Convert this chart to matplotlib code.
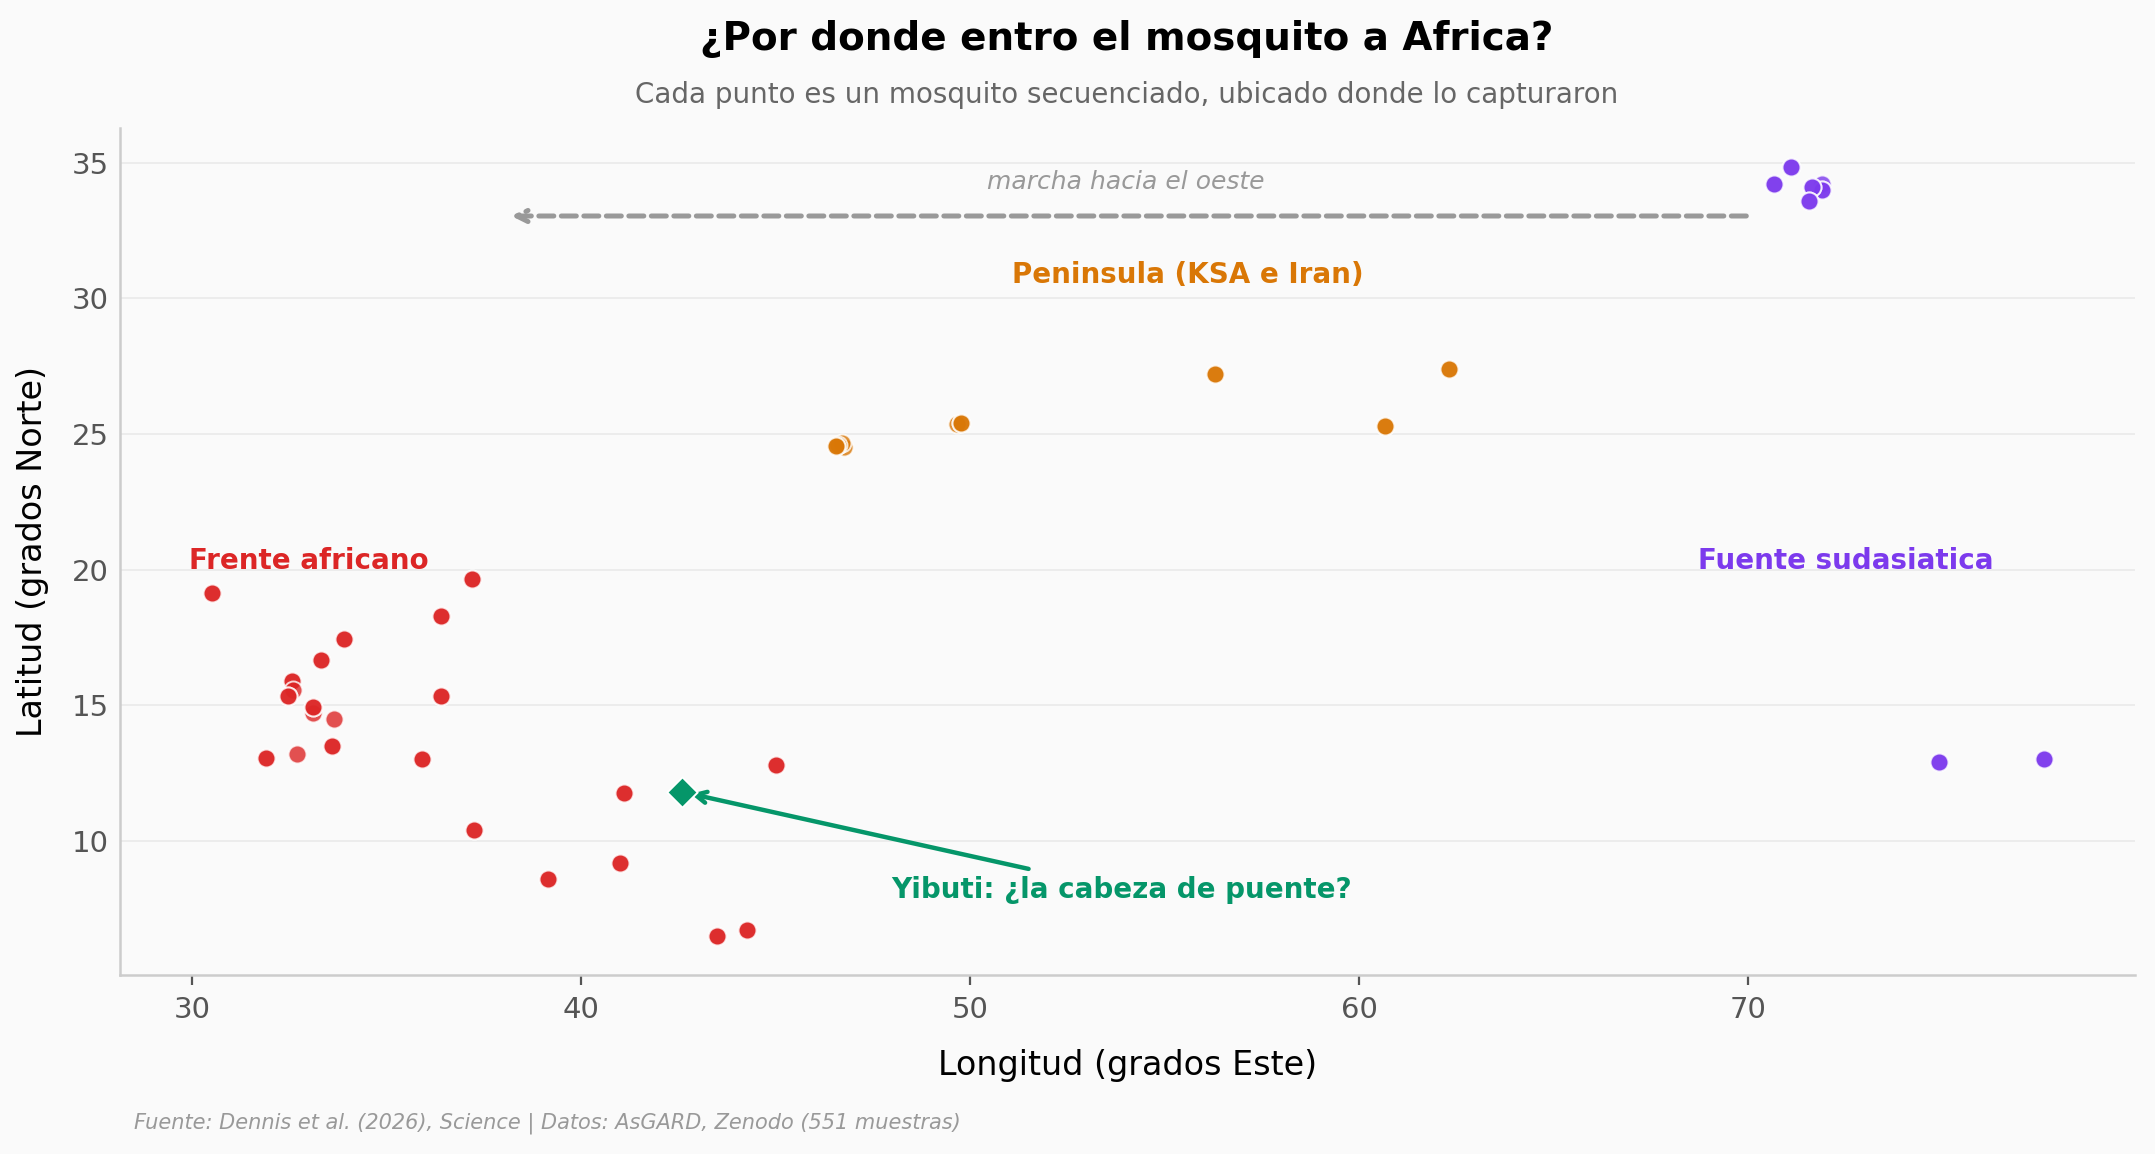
import matplotlib
matplotlib.use("Agg")
import matplotlib.pyplot as plt

# Frente africano (puntos repetidos = varias muestras en el mismo sitio)
africa_lon = [30.5, 30.5, 37.2, 37.2, 36.4, 36.4, 33.9, 33.9, 33.3, 33.3, 32.55, 32.55,
              32.6, 32.45, 32.45, 33.1, 33.1, 33.1, 33.65, 36.4, 36.4, 33.6, 33.6,
              31.9, 31.9, 32.7, 35.9, 35.9, 45.0, 45.0, 41.1, 41.1, 37.25, 37.25,
              39.15, 39.15, 41.0, 41.0, 43.5, 43.5, 44.25, 44.25]
africa_lat = [19.15, 19.15, 19.65, 19.65, 18.3, 18.3, 17.45, 17.45, 16.65, 16.65, 15.9, 15.9,
              15.55, 15.35, 15.35, 14.7, 14.95, 14.95, 14.5, 15.35, 15.35, 13.5, 13.5,
              13.05, 13.05, 13.2, 13.0, 13.0, 12.8, 12.8, 11.75, 11.75, 10.4, 10.4,
              8.6, 8.6, 9.2, 9.2, 6.5, 6.5, 6.7, 6.7]

# Peninsula arabiga e Iran
pen_lon = [46.75, 46.7, 46.6, 46.55, 46.55, 49.65, 49.75, 49.75, 56.3, 56.3,
           60.65, 60.65, 62.3, 62.3]
pen_lat = [24.5, 24.65, 24.6, 24.55, 24.55, 25.35, 25.4, 25.4, 27.2, 27.2,
           25.3, 25.3, 27.4, 27.4]

# Fuente sudasiatica
asia_lon = [71.1, 71.1, 70.65, 70.65, 71.9, 71.9, 71.9, 71.65, 71.65, 71.55, 71.55,
            74.9, 74.9, 77.6, 77.6]
asia_lat = [34.85, 34.85, 34.2, 34.2, 34.2, 34.0, 34.0, 34.1, 34.1, 33.6, 33.6,
            12.9, 12.9, 13.0, 13.0]

# Yibuti
djib_lon = [42.6]
djib_lat = [11.8]

RED = "#DC2626"
ORANGE = "#D97706"
PURPLE = "#7C3AED"
GREEN = "#059669"
BG = "#FAFAFA"

fig = plt.figure(figsize=(10.775, 5.77), dpi=200, facecolor=BG)
ax = fig.add_axes([0.0555, 0.155, 0.935, 0.734])
ax.set_facecolor(BG)

kw = dict(s=42, alpha=0.8, edgecolor="white", linewidth=0.7, zorder=3)
ax.scatter(africa_lon, africa_lat, color=RED, **kw)
ax.scatter(pen_lon, pen_lat, color=ORANGE, **kw)
ax.scatter(asia_lon, asia_lat, color=PURPLE, **kw)
ax.scatter(djib_lon, djib_lat, color=GREEN, marker="D", s=60, edgecolor="white",
           linewidth=0.7, zorder=5)

ax.set_xlim(28.13, 79.93)
ax.set_ylim(5.05, 36.27)
ax.set_xticks([30, 40, 50, 60, 70])
ax.set_yticks([10, 15, 20, 25, 30, 35])

ax.grid(axis="y", color="#ECECEC", linewidth=0.7, zorder=0)
ax.set_axisbelow(True)
for s in ["top", "right"]:
    ax.spines[s].set_visible(False)
for s in ["left", "bottom"]:
    ax.spines[s].set_color("#CCCCCC")
    ax.spines[s].set_linewidth(0.9)
ax.tick_params(colors="#555555", labelsize=10.5)
ax.tick_params(axis="x", length=3.5, width=0.8, pad=4)
ax.tick_params(axis="y", length=0, pad=4)

ax.set_xlabel("Longitud (grados Este)", fontsize=12, labelpad=9)
ax.set_ylabel("Latitud (grados Norte)", fontsize=12, labelpad=8)

# etiquetas de grupos
ax.text(33.0, 20.3, "Frente africano", color=RED, fontsize=10, fontweight="bold",
        ha="center", va="center")
ax.text(55.6, 30.85, "Peninsula (KSA e Iran)", color=ORANGE, fontsize=10,
        fontweight="bold", ha="center", va="center")
ax.text(72.5, 20.3, "Fuente sudasiatica", color=PURPLE, fontsize=10,
        fontweight="bold", ha="center", va="center")

# flecha de marcha hacia el oeste
ax.annotate("", xy=(38.2, 33.03), xytext=(69.95, 33.03),
            arrowprops=dict(arrowstyle="->", color="#999999", lw=1.8,
                            linestyle=(0, (3, 1.5)), shrinkA=0, shrinkB=0))
ax.text(54.0, 34.3, "marcha hacia el oeste", color="#999999", fontsize=9,
        style="italic", ha="center", va="center")

# Yibuti
ax.annotate("Yibuti: ¿la cabeza de puente?", xy=(42.6, 11.8), xytext=(53.9, 8.2),
            color=GREEN, fontsize=10, fontweight="bold", ha="center", va="center",
            arrowprops=dict(arrowstyle="->", color=GREEN, lw=1.6, shrinkB=3))

fig.text(0.523, 0.966, "¿Por donde entro el mosquito a Africa?", fontsize=14,
         fontweight="bold", ha="center", va="center")
fig.text(0.523, 0.918, "Cada punto es un mosquito secuenciado, ubicado donde lo capturaron",
         fontsize=10, color="#666666", ha="center", va="center")
fig.text(0.062, 0.027, "Fuente: Dennis et al. (2026), Science | Datos: AsGARD, Zenodo (551 muestras)",
         fontsize=7.5, color="#999999", style="italic", ha="left", va="center")

fig.savefig("out.png", dpi=200, facecolor=BG)
